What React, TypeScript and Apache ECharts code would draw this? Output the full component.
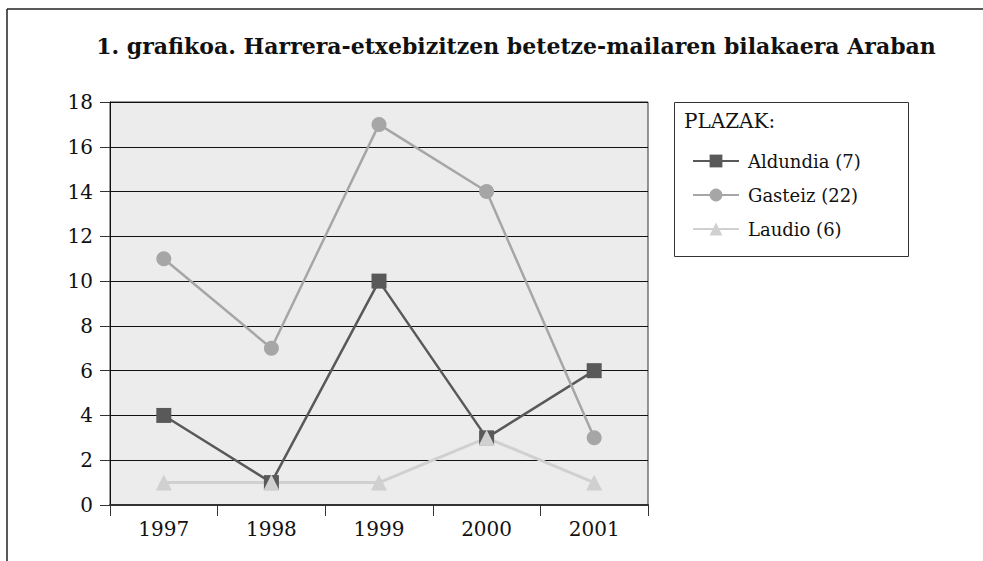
import React, { useEffect, useRef } from "react";
import * as echarts from "echarts";

const years = ["1997", "1998", "1999", "2000", "2001"];
const aldundia = [4, 1, 10, 3, 6];
const gasteiz = [11, 7, 17, 14, 3];
const laudio = [1, 1, 1, 3, 1];
const seriesNames = ["Aldundia (7)", "Gasteiz (22)", "Laudio (6)"];
const titleText = "1. grafikoa. Harrera-etxebizitzen betetze-mailaren bilakaera Araban";
const legendTitle = "PLAZAK:";

const FONT = "'DejaVu Serif', serif";

export default function App() {
  const ref = useRef<HTMLDivElement>(null);
  useEffect(() => {
    if (!ref.current) return;
    const chart = echarts.init(ref.current, null, { renderer: "svg" });
    chart.setOption({
      animation: false,
      backgroundColor: "#ffffff",
      textStyle: { fontFamily: FONT },
      graphic: [
        { type: "line", shape: { x1: 7, y1: 9, x2: 983, y2: 9 }, style: { stroke: "#222", lineWidth: 1.5 } },
        { type: "line", shape: { x1: 7, y1: 9, x2: 7, y2: 561 }, style: { stroke: "#222", lineWidth: 1.5 } },
        {
          type: "text",
          x: 516,
          y: 35,
          style: {
            text: titleText,
            font: "bold 22px 'DejaVu Serif', serif",
            fill: "#111",
            textAlign: "center",
            textVerticalAlign: "top",
          },
        },
        { type: "rect", shape: { x: 674.5, y: 102.5, width: 234, height: 154 }, style: { fill: "none", stroke: "#333", lineWidth: 1 } },
        { type: "text", x: 684, y: 111, style: { text: legendTitle, font: "20px 'DejaVu Serif', serif", fill: "#111" } },
      ],
      legend: {
        orient: "vertical",
        left: 687,
        top: 146,
        itemWidth: 46,
        itemHeight: 16,
        itemGap: 14,
        data: seriesNames,
        textStyle: { fontFamily: FONT, fontSize: 18, color: "#111", lineHeight: 20, padding: [0, 0, 0, 4] },
      },
      grid: {
        left: 110,
        top: 102,
        right: 335,
        bottom: 56,
        show: true,
        backgroundColor: "#ececec",
        borderColor: "#333",
        borderWidth: 1,
        containLabel: false,
      },
      xAxis: {
        type: "category",
        data: years,
        boundaryGap: true,
        axisLine: { show: true, lineStyle: { color: "#333", width: 2 } },
        axisTick: { show: true, length: 11, lineStyle: { color: "#333" } },
        axisLabel: { margin: 14, fontFamily: FONT, fontSize: 20, color: "#111" },
      },
      yAxis: {
        type: "value",
        min: 0,
        max: 18,
        interval: 2,
        axisLine: { show: true, lineStyle: { color: "#111", width: 1 } },
        axisTick: { show: true, length: 10, lineStyle: { color: "#333" } },
        axisLabel: { margin: 17, fontFamily: FONT, fontSize: 20, color: "#111" },
        splitLine: { show: true, lineStyle: { color: "#111", width: 1 } },
      },
      series: [
        {
          name: seriesNames[0],
          type: "line",
          data: aldundia,
          symbol: "rect",
          symbolSize: 15,
          itemStyle: { color: "#595959" },
          lineStyle: { color: "#595959", width: 2.5 },
        },
        {
          name: seriesNames[1],
          type: "line",
          data: gasteiz,
          symbol: "circle",
          symbolSize: 15,
          itemStyle: { color: "#a6a6a6" },
          lineStyle: { color: "#a6a6a6", width: 2.5 },
        },
        {
          name: seriesNames[2],
          type: "line",
          data: laudio,
          symbol: "triangle",
          symbolSize: 16,
          itemStyle: { color: "#d0d0d0" },
          lineStyle: { color: "#d0d0d0", width: 3 },
        },
      ],
    });
    return () => chart.dispose();
  }, []);
  return (
    <div
      ref={ref}
      style={{ position: "fixed", left: 0, top: 0, width: 983, height: 561 }}
    />
  );
}
